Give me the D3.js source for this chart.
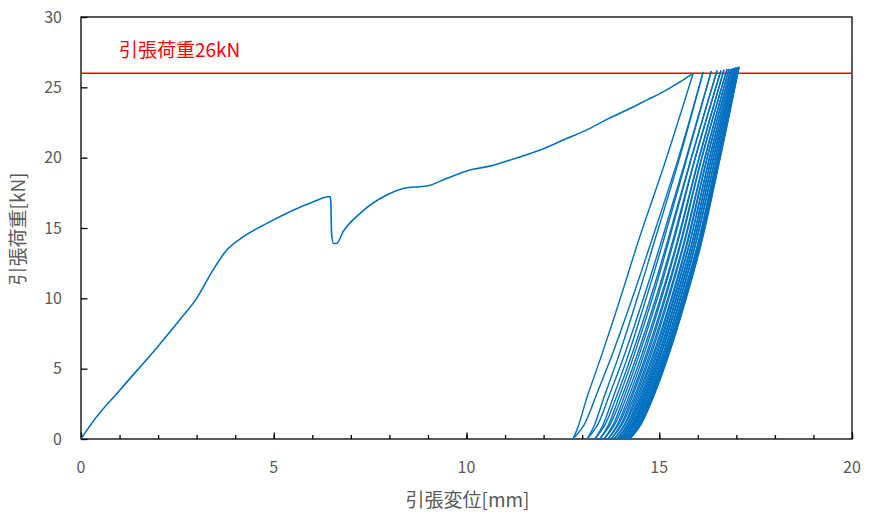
<!DOCTYPE html>
<html>
<head>
<meta charset="utf-8">
<script src="https://cdn.jsdelivr.net/npm/d3@7"></script>
<style>
  body { margin: 0; background: #fff; }
  svg { display: block; }
  .tick-label { font-family: "Noto Sans CJK JP", "Noto Sans", sans-serif; font-size: 16px; fill: #595959; }
  .axis-title { font-family: "Noto Sans CJK JP", "Noto Sans", sans-serif; font-size: 19px; fill: #595959; }
</style>
</head>
<body>
<div id="chart"></div>
<script>
// axis ticks
var xTicks = [0, 5, 10, 15, 20];
var yTicks = [0, 5, 10, 15, 20, 25, 30];
var limitLoad = 26;
var limitLabel = '引張荷重26kN';

// first loading up to the target load
var monoX = [0, 0.3, 1.0, 2.0, 2.6, 3.0, 3.4, 3.78, 4.21, 4.82, 5.42, 6.03, 6.42, 6.46, 6.48, 6.50, 6.55, 6.63, 6.80, 7.24, 7.93, 8.45, 8.97, 9.49, 10.09, 10.61, 11.21, 11.91, 12.51, 13.20, 13.64, 14.24, 14.67, 15.10, 15.54, 15.88];
var monoY = [0, 1.2, 3.45, 6.6, 8.6, 10.0, 11.9, 13.43, 14.38, 15.33, 16.16, 16.87, 17.22, 17.22, 16.9, 14.6, 13.9, 13.9, 14.74, 16.04, 17.34, 17.86, 17.98, 18.53, 19.12, 19.4, 19.9, 20.54, 21.25, 22.08, 22.72, 23.5, 24.09, 24.68, 25.39, 25.99];

// repeated cycles: load levels and displacement read at each level
var loadLevels = [0, 1, 3, 6, 10, 14, 20];
var peakX = [15.88, 16.14, 16.35, 16.50, 16.60, 16.68, 16.76, 16.81, 16.86, 16.90, 16.94, 16.97, 16.99, 17.02, 17.04, 17.06, 17.07];
var peakY = [26.0, 26.1, 26.15, 26.2, 26.2, 26.25, 26.3, 26.3, 26.3, 26.35, 26.35, 26.4, 26.4, 26.4, 26.4, 26.45, 26.45];
var unloadX = [
  [12.76, 12.91, 13.13, 13.51, 13.99, 14.45, 15.19],
  [13.13, 13.32, 13.57, 13.96, 14.43, 14.87, 15.53],
  [13.33, 13.54, 13.81, 14.20, 14.66, 15.10, 15.72],
  [13.46, 13.68, 13.96, 14.35, 14.82, 15.24, 15.84],
  [13.57, 13.80, 14.09, 14.48, 14.95, 15.37, 15.94],
  [13.67, 13.91, 14.21, 14.60, 15.06, 15.48, 16.04],
  [13.75, 14.00, 14.30, 14.70, 15.16, 15.57, 16.11],
  [13.83, 14.09, 14.39, 14.79, 15.25, 15.66, 16.19],
  [13.90, 14.16, 14.47, 14.87, 15.33, 15.74, 16.25],
  [13.96, 14.22, 14.54, 14.94, 15.39, 15.80, 16.31],
  [14.01, 14.28, 14.60, 15.00, 15.45, 15.86, 16.36],
  [14.06, 14.33, 14.65, 15.05, 15.50, 15.91, 16.41],
  [14.11, 14.38, 14.71, 15.11, 15.56, 15.96, 16.46],
  [14.16, 14.44, 14.76, 15.16, 15.61, 16.02, 16.50],
  [14.19, 14.47, 14.80, 15.20, 15.65, 16.05, 16.53],
  [14.21, 14.49, 14.82, 15.22, 15.67, 16.07, 16.55],
  [14.24, 14.52, 14.85, 15.25, 15.70, 16.10, 16.58]
];
var reloadX = [
  [12.76, 13.05, 13.35, 13.78, 14.30, 14.79, 15.50],
  [13.13, 13.40, 13.69, 14.10, 14.59, 15.05, 15.70],
  [13.33, 13.59, 13.89, 14.29, 14.77, 15.21, 15.83],
  [13.46, 13.72, 14.03, 14.43, 14.91, 15.34, 15.93],
  [13.57, 13.84, 14.15, 14.55, 15.03, 15.46, 16.03],
  [13.67, 13.94, 14.26, 14.66, 15.13, 15.55, 16.10],
  [13.75, 14.03, 14.35, 14.75, 15.22, 15.64, 16.18],
  [13.83, 14.11, 14.43, 14.84, 15.31, 15.72, 16.24],
  [13.90, 14.18, 14.51, 14.91, 15.37, 15.79, 16.30],
  [13.96, 14.24, 14.57, 14.98, 15.43, 15.85, 16.35],
  [14.01, 14.30, 14.63, 15.03, 15.49, 15.90, 16.40],
  [14.06, 14.35, 14.68, 15.09, 15.54, 15.95, 16.45],
  [14.11, 14.40, 14.74, 15.14, 15.60, 16.01, 16.50],
  [14.16, 14.45, 14.78, 15.18, 15.64, 16.04, 16.53],
  [14.19, 14.48, 14.81, 15.21, 15.66, 16.07, 16.55],
  [14.21, 14.50, 14.84, 15.24, 15.69, 16.09, 16.58]
];

var width = 869, height = 519;
var margin = {top: 17, right: 17, bottom: 80, left: 81};
var innerW = width - margin.left - margin.right;
var innerH = height - margin.top - margin.bottom;
var lineColor = '#0070C0';

var svg = d3.select('#chart').append('svg')
    .attr('width', width)
    .attr('height', height);

var x = d3.scaleLinear().domain([0, 20]).range([margin.left, margin.left + innerW]);
var y = d3.scaleLinear().domain([0, 30]).range([margin.top + innerH, margin.top]);

// plot frame
svg.append('rect')
    .attr('x', x(0)).attr('y', y(30))
    .attr('width', x(20) - x(0)).attr('height', y(0) - y(30))
    .attr('fill', 'none').attr('stroke', '#000').attr('stroke-width', 1.3);

// x axis: major ticks every 5, minor every 1, pointing inward
svg.append('g')
    .attr('transform', 'translate(0,' + y(0) + ')')
    .call(d3.axisTop(x).tickValues(d3.range(0, 21, 1)).tickSize(4).tickFormat(''))
    .call(function (g) { g.select('.domain').remove(); })
    .selectAll('line').attr('stroke', '#000').attr('stroke-width', 1.3);
svg.append('g')
    .attr('transform', 'translate(0,' + y(0) + ')')
    .call(d3.axisTop(x).tickValues(xTicks).tickSize(6.5).tickFormat(''))
    .call(function (g) { g.select('.domain').remove(); })
    .selectAll('line').attr('stroke', '#000').attr('stroke-width', 1.3);
svg.append('g').selectAll('text')
    .data(xTicks).enter().append('text')
    .attr('class', 'tick-label')
    .attr('x', function (d) { return x(d); })
    .attr('y', y(0) + 34)
    .attr('text-anchor', 'middle')
    .text(function (d) { return d; });

// y axis
svg.append('g')
    .attr('transform', 'translate(' + x(0) + ',0)')
    .call(d3.axisRight(y).tickValues(yTicks).tickSize(6.5).tickFormat(''))
    .call(function (g) { g.select('.domain').remove(); })
    .selectAll('line').attr('stroke', '#000').attr('stroke-width', 1.3);
svg.append('g').selectAll('text')
    .data(yTicks).enter().append('text')
    .attr('class', 'tick-label')
    .attr('x', x(0) - 19)
    .attr('y', function (d) { return y(d); })
    .attr('dy', '0.36em')
    .attr('text-anchor', 'end')
    .text(function (d) { return d; });

// axis titles
svg.append('text')
    .attr('class', 'axis-title')
    .attr('x', (x(0) + x(20)) / 2 + 1)
    .attr('y', 507)
    .attr('text-anchor', 'middle')
    .text('引張変位[mm]');
svg.append('text')
    .attr('class', 'axis-title')
    .attr('transform', 'translate(25,' + 229 + ') rotate(-90)')
    .attr('text-anchor', 'middle')
    .text('引張荷重[kN]');

// target load line
svg.append('line')
    .attr('x1', x(0)).attr('x2', x(20))
    .attr('y1', y(limitLoad)).attr('y2', y(limitLoad))
    .attr('stroke', '#FF0000').attr('stroke-width', 1.3);
svg.append('text')
    .attr('x', 119)
    .attr('y', 57)
    .attr('fill', '#FF0000')
    .style('font-family', '"Noto Sans CJK JP", sans-serif')
    .style('font-size', '19px')
    .text(limitLabel);

// curves
var monoLine = d3.line()
    .x(function (d) { return x(d[0]); })
    .y(function (d) { return y(d[1]); })
    .curve(d3.curveMonotoneX);
var cycleLine = d3.line()
    .x(function (d) { return x(d[0]); })
    .y(function (d) { return y(d[1]); })
    .curve(d3.curveCatmullRom.alpha(0.5));

var curves = svg.append('g')
    .attr('fill', 'none')
    .attr('stroke', lineColor)
    .attr('stroke-width', 1.4)
    .attr('stroke-linejoin', 'round');

curves.append('path')
    .attr('stroke-width', 1.6)
    .attr('d', monoLine(monoX.map(function (v, i) { return [v, monoY[i]]; })));

unloadX.forEach(function (xs, i) {
    // unloading: from peak down to zero load
    var down = [[peakX[i], peakY[i]]];
    for (var k = loadLevels.length - 1; k >= 0; k--) down.push([xs[k], loadLevels[k]]);
    curves.append('path').attr('d', cycleLine(down));

    // reloading: from zero load up to the next peak
    if (i < reloadX.length) {
        var up = reloadX[i].map(function (v, k) { return [v, loadLevels[k]]; });
        up.push([peakX[i + 1], peakY[i + 1]]);
        curves.append('path').attr('d', cycleLine(up));
    }
});
</script>
</body>
</html>
